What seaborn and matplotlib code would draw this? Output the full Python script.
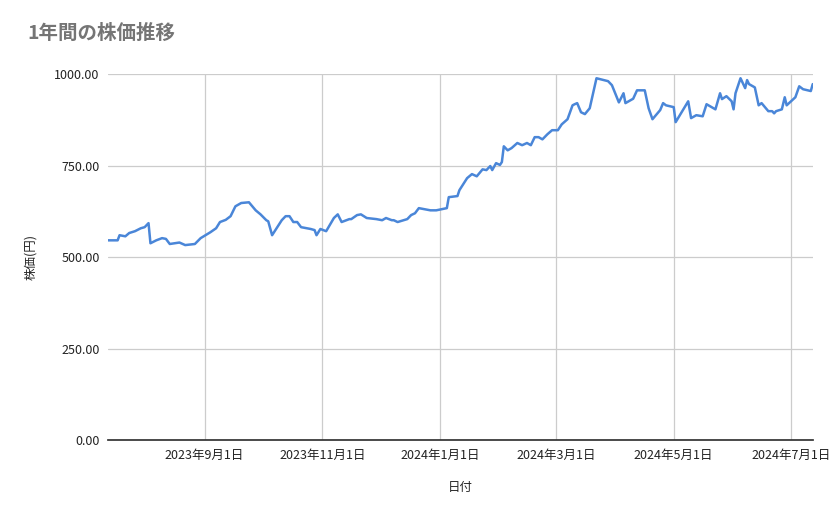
import matplotlib
matplotlib.use("Agg")
import matplotlib.pyplot as plt
import matplotlib.ticker as mticker
import seaborn as sns
import pandas as pd

sns.set_theme(style="white")
plt.rcParams['font.family'] = ['Noto Sans CJK JP', 'DejaVu Sans']

start = pd.Timestamp("2023-07-13")
# (days since start, price)
points = [
    (0, 546), (5, 546), (6, 560), (9, 557), (11, 566), (14, 571), (17, 579), (19, 582), (21, 593),
    (22, 538), (25, 546), (28, 552), (30, 550), (32, 536), (37, 540), (40, 533), (45, 536),
    (48, 552), (50.5, 560), (53, 568), (56, 579), (58, 596), (61, 602), (63.5, 612), (66, 639),
    (69, 648), (73, 650), (76.5, 628), (79, 617), (82, 601), (83, 598), (85, 560), (90, 601),
    (92, 612), (94, 612), (96, 596), (98, 596), (100, 582), (105, 577), (107, 574), (108, 560),
    (110, 577), (113, 571), (117, 607), (119, 617), (121, 596), (125, 604), (126, 604),
    (129, 615), (131, 617), (134, 607), (139, 604), (142, 601), (144, 607), (147, 601),
    (148, 601), (150, 596), (155, 604), (157, 615), (159, 620), (161, 634), (167, 628),
    (170, 628), (175.5, 634), (176.5, 664), (181, 667), (182, 683), (186, 716), (188.5, 727),
    (191, 721), (194, 740), (196, 738), (198, 749), (199, 738), (201, 757), (203, 752),
    (204, 760), (205, 803), (207, 792), (209, 798), (212, 812), (214.5, 806), (217, 812),
    (219, 806), (221, 828), (223, 828), (225, 822), (227.6, 836), (230, 847), (233, 847),
    (235, 863), (238, 877), (240.6, 915), (241.7, 918), (243, 921), (245, 896), (247, 891),
    (249.5, 907), (253, 989), (259, 981), (261, 970), (264.6, 923), (267, 948), (268, 921),
    (272, 933), (274, 956), (278, 956), (280, 907), (282, 877), (286, 902), (287.5, 921),
    (289, 915), (293, 910), (294, 869), (300.5, 926), (302, 880), (304.7, 888), (308, 885),
    (310, 918), (314.6, 904), (317, 948), (318, 932), (320.3, 940), (323, 926), (324, 904),
    (325, 948), (327.6, 989), (330, 962), (331, 984), (332, 973), (335, 964), (337, 915),
    (338.5, 921), (342, 899), (344, 899), (345, 893), (346, 899), (349, 904), (350.5, 937),
    (351.5, 915), (356, 937), (358, 967), (360, 959), (364, 954), (365, 973), (367, 956),
]
days = [p[0] for p in points]
prices = [p[1] for p in points]

df = pd.DataFrame({"date": [start + pd.Timedelta(days=d) for d in days], "price": prices})

fig = plt.figure(figsize=(8.39, 5.19), dpi=100)
ax = fig.add_axes([0.1287, 0.152, 0.840, 0.705])
sns.lineplot(data=df, x="date", y="price", ax=ax, color="#4a86d8", linewidth=1.8)

ax.set_xlim(start, pd.Timestamp("2024-07-12"))
ax.set_ylim(0, 1000)
ax.set_yticks([0, 250, 500, 750, 1000])
ax.yaxis.set_major_formatter(mticker.FuncFormatter(lambda v, p: f"{v:.2f}"))
ticks = pd.to_datetime(["2023-09-01", "2023-11-01", "2024-01-01", "2024-03-01", "2024-05-01", "2024-07-01"])
ax.set_xticks(ticks)
ax.set_xticklabels([f"{t.year}年{t.month}月{t.day}日" for t in ticks])
ax.grid(True, color="#cccccc", linewidth=0.9)
for s in ["top", "right", "left"]:
    ax.spines[s].set_visible(False)
ax.spines["bottom"].set_color("#333333")
ax.tick_params(axis="both", labelsize=9, colors="#222222", length=0, pad=6)
ax.set_xlabel("日付", fontsize=9, labelpad=14)
ax.set_ylabel("株価(円)", fontsize=9, labelpad=12)
fig.text(0.033, 0.925, "1年間の株価推移", fontsize=14, color="#757575", fontweight="bold")

fig.savefig("out.png", dpi=100)
